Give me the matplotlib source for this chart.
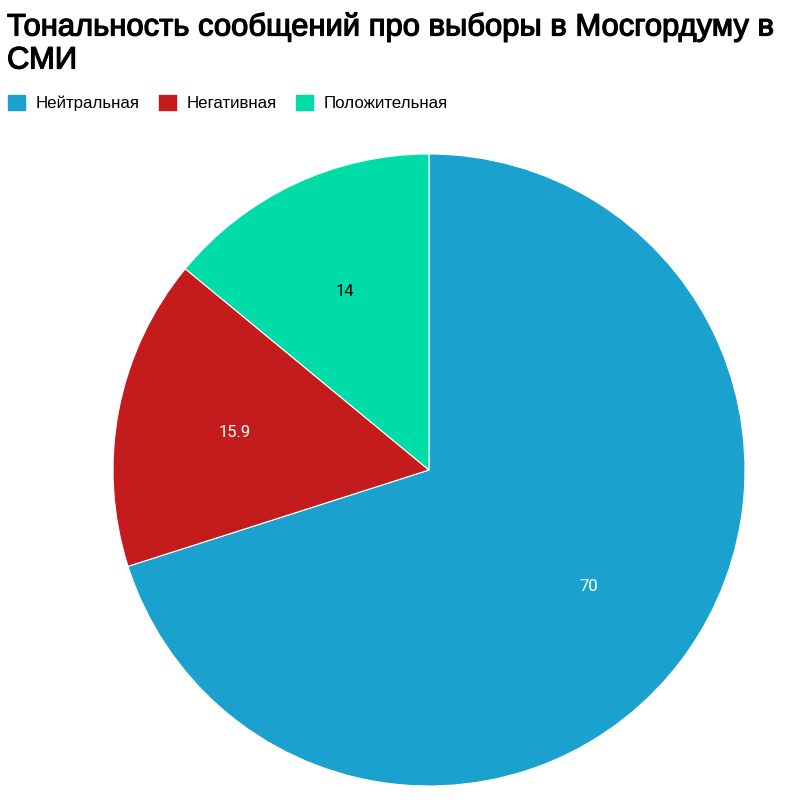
import matplotlib
matplotlib.use("Agg")
import matplotlib.pyplot as plt
import matplotlib.patheffects as pe
from matplotlib.patches import Patch
import numpy as np

categories = ['Нейтральная', 'Негативная', 'Положительная']
values = [70, 15.9, 14]
colors = ['#1aa1ce', '#c41c1c', '#00dca8']
label_colors = ['white', 'white', 'black']

fig = plt.figure(figsize=(8.09, 8.0), dpi=100)

# pie axes: centre ~ (429, 470) px, radius ~316 px
ax = fig.add_axes([113 / 809, 14 / 800, 632 / 809, 632 / 800])
wedges, texts = ax.pie(values, colors=colors, startangle=90, counterclock=False,
                       radius=1.0, wedgeprops=dict(edgecolor='white', linewidth=0.8))
ax.set_xlim(-1, 1)
ax.set_ylim(-1, 1)
ax.set_aspect('equal')
ax.axis('off')

total = sum(values)
start = 90.0
for v, c in zip(values, label_colors):
    mid = np.deg2rad(start - v / total * 360 / 2)
    start -= v / total * 360
    ax.text(0.625 * np.cos(mid), 0.625 * np.sin(mid), f'{v:g}', ha='center', va='center',
            color=c, fontsize=12, family='Roboto')

fig.text(7 / 809, 1 - 12 / 800, 'Тональность сообщений про выборы в Мосгордуму в\nСМИ',
         ha='left', va='top', fontsize=22.3, family='Liberation Sans',
         linespacing=1.13,
         path_effects=[pe.withStroke(linewidth=0.9, foreground='black')])

handles = [Patch(facecolor=c, edgecolor=c) for c in colors]
fig.legend(handles, categories, loc='upper left', bbox_to_anchor=(8 / 809, 1 - 95 / 800),
           ncol=3, frameon=False, handlelength=1.02, handleheight=1.02, handletextpad=0.6,
           columnspacing=1.14, prop={'family': 'Liberation Sans', 'size': 12.2},
           borderaxespad=0, borderpad=0)

fig.savefig('out.png', dpi=100)
